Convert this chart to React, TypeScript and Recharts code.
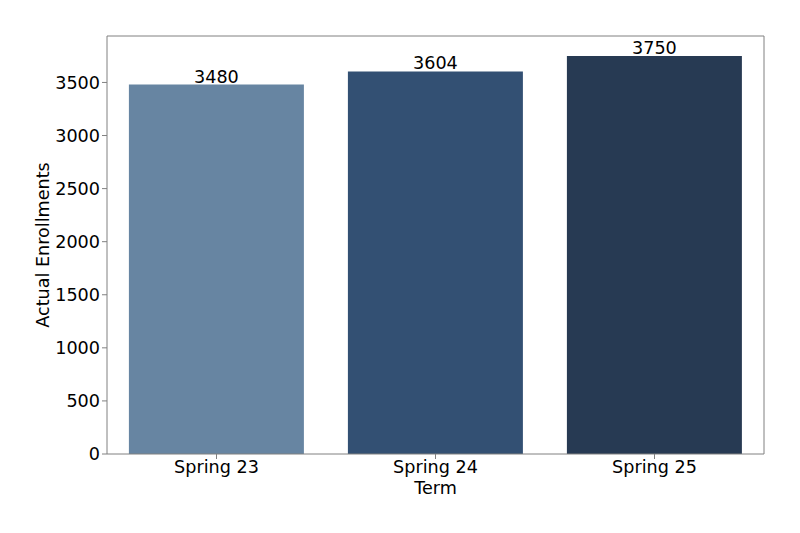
import { BarChart, Bar, XAxis, YAxis, Cell, LabelList } from 'recharts';

const terms = ['Spring 23', 'Spring 24', 'Spring 25'];
const enrollments = [3480, 3604, 3750];
const barColors = ['#6785a2', '#335073', '#273a53'];
const yTicks = [0, 500, 1000, 1500, 2000, 2500, 3000, 3500];

const FONT = 'DejaVu Sans, sans-serif';
const FRAME = '#808080';
const FS = 17.6;

const data = terms.map((term, i) => ({ term, value: enrollments[i] }));

const YLabel = (props: any) => {
  const vb = props.viewBox || {};
  const cx = 43;
  const cy = (vb.y || 0) + (vb.height || 0) / 2;
  return (
    <text
      x={cx}
      y={cy}
      transform={`rotate(-90, ${cx}, ${cy})`}
      textAnchor="middle"
      dominantBaseline="central"
      fontSize={FS}
      fontFamily={FONT}
      fill="#000"
    >
      Actual Enrollments
    </text>
  );
};

const XLabel = (props: any) => {
  const vb = props.viewBox || {};
  const cx = (vb.x || 0) + (vb.width || 0) / 2;
  return (
    <text
      x={cx}
      y={494}
      textAnchor="middle"
      fontSize={FS}
      fontFamily={FONT}
      fill="#000"
    >
      Term
    </text>
  );
};

export default function App() {
  return (
    <div style={{ position: 'absolute', left: 0, top: 0, width: 800, height: 533, background: '#fff' }}>
      <BarChart
        width={800}
        height={533}
        data={data}
        margin={{ top: 35, right: 35, bottom: 0, left: 0 }}
        barCategoryGap="10%"
      >
        <XAxis
          dataKey="term"
          height={79}
          stroke={FRAME}
          tickSize={5}
          tick={{ fill: '#000', fontSize: FS, fontFamily: FONT }}
          label={<XLabel />}
        />
        <XAxis
          xAxisId="top"
          dataKey="term"
          orientation="top"
          height={1}
          tick={false}
          tickLine={false}
          stroke={FRAME}
        />
        <YAxis
          width={107}
          domain={[0, 3937.5]}
          ticks={yTicks}
          stroke={FRAME}
          tickSize={5}
          allowDataOverflow
          tick={{ fill: '#000', fontSize: FS, fontFamily: FONT }}
          label={<YLabel />}
        />
        <YAxis
          yAxisId="right"
          orientation="right"
          width={1}
          tick={false}
          tickLine={false}
          stroke={FRAME}
        />
        <Bar dataKey="value" isAnimationActive={false}>
          {data.map((d, i) => (
            <Cell key={d.term} fill={barColors[i]} />
          ))}
          <LabelList
            dataKey="value"
            position="top"
            offset={2}
            fill="#000"
            fontSize={FS}
            fontFamily={FONT}
          />
        </Bar>
      </BarChart>
    </div>
  );
}
